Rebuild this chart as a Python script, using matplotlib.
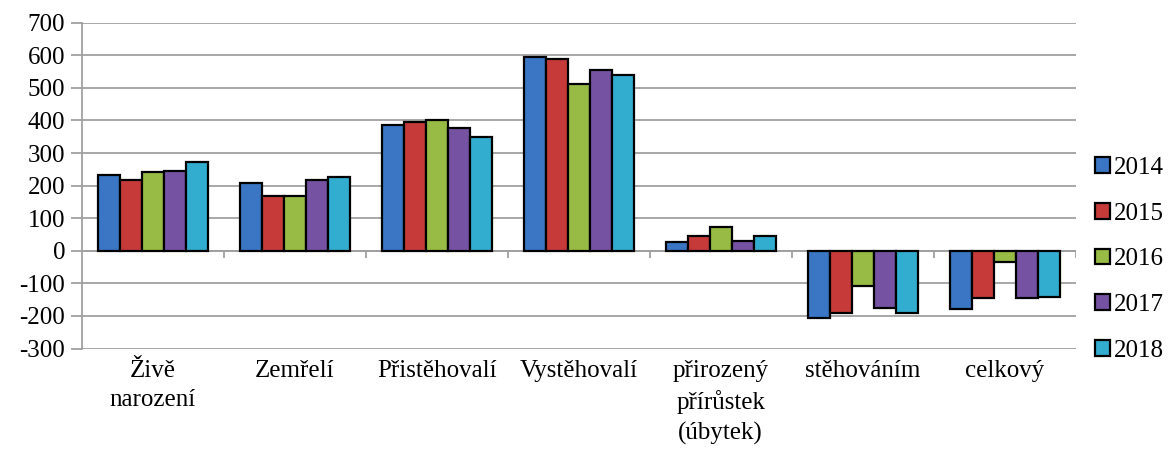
import matplotlib.pyplot as plt
import numpy as np

# categories and yearly values
categories = ["Živě\nnarození", "Zemřelí", "Přistěhovalí", "Vystěhovalí",
              "přirozený\npřírůstek\n(úbytek)", "stěhováním", "celkový"]
years = ["2014", "2015", "2016", "2017", "2018"]
v2014 = [234, 207, 387, 596, 27, -207, -179]
v2015 = [217, 169, 396, 589, 44, -191, -144]
v2016 = [243, 169, 402, 513, 72, -109, -34]
v2017 = [246, 216, 378, 556, 29, -176, -146]
v2018 = [273, 225, 349, 540, 46, -192, -142]
series = [v2014, v2015, v2016, v2017, v2018]
colors = ["#3a76c4", "#c63b39", "#97bb44", "#7653a2", "#33adcf"]

plt.rcParams['font.family'] = ['Liberation Serif', 'DejaVu Serif']
plt.rcParams['axes.unicode_minus'] = False

fig = plt.figure(figsize=(11.73, 4.55), dpi=100)
ax = fig.add_axes([0.0699, 0.234, 0.847, 0.716])

x = np.arange(len(categories))
w = 0.155
for i, (vals, c, yr) in enumerate(zip(series, colors, years)):
    ax.bar(x + (i - 2) * w, vals, w, color=c, edgecolor="black",
           linewidth=1.6, label=yr, zorder=3)

ax.set_xlim(-0.5, len(categories) - 0.5)
ax.set_ylim(-300, 700)
ax.set_yticks(np.arange(-300, 701, 100))
ax.yaxis.grid(True, color="#a0a0a0", linewidth=1.3, zorder=0)
ax.set_axisbelow(True)

for s in ["top", "right", "bottom"]:
    ax.spines[s].set_visible(False)
ax.spines["left"].set_color("#a0a0a0")
ax.spines["left"].set_linewidth(1.3)

# category axis at zero with tick marks between groups
ax.axhline(0, color="#a0a0a0", linewidth=1.3, zorder=2)
bounds = np.arange(0.5, len(categories) - 0.5 + 1, 1.0)
ax.vlines(bounds, -22, 0, color="#a0a0a0", linewidth=1.3, zorder=2)

ax.set_xticks(x)
ax.set_xticklabels(categories, fontsize=18, linespacing=1.45)
ax.tick_params(axis="x", length=0, pad=8)
ax.tick_params(axis="y", labelsize=18, length=8, color="#a0a0a0", width=1.3, pad=4)

fig.legend(loc="center left", bbox_to_anchor=(0.925, 0.43), frameon=False,
           fontsize=18, handlelength=0.6, handleheight=0.6, handletextpad=0.15,
           labelspacing=0.95, borderaxespad=0)

plt.savefig("out.png", dpi=100)
